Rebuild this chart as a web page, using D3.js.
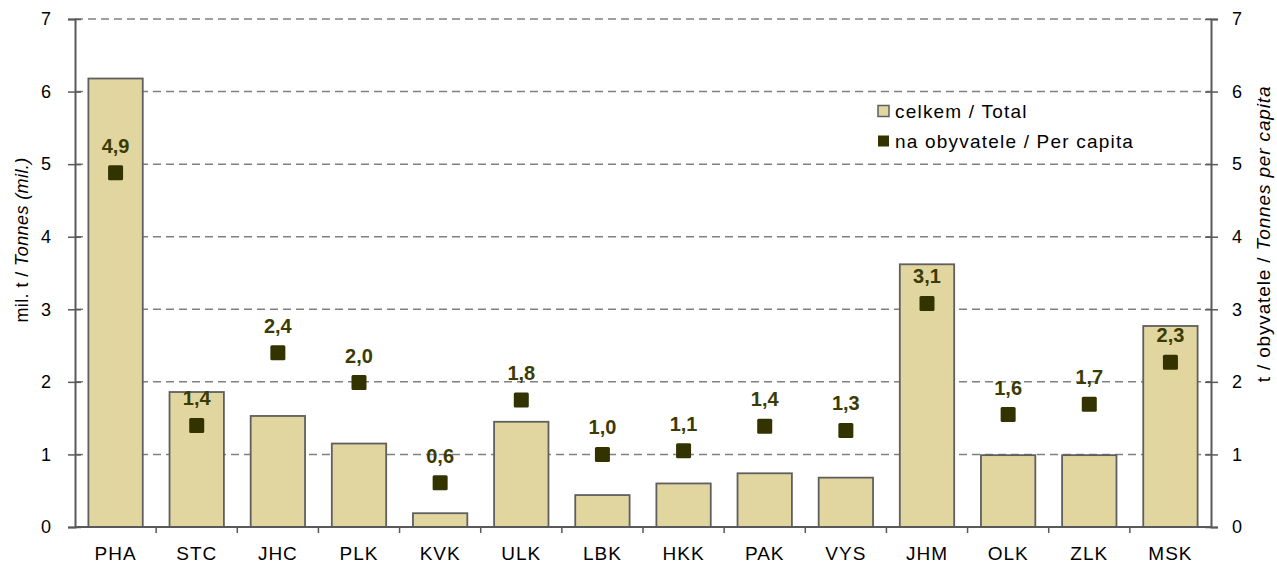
<!DOCTYPE html>
<html>
<head>
<meta charset="utf-8">
<script src="https://cdn.jsdelivr.net/npm/d3@7"></script>
<style>
  body { margin: 0; background: #fff; }
  text { font-family: "Liberation Sans", Arial, sans-serif; }
</style>
</head>
<body>
<svg id="chart" width="1277" height="564"></svg>
<script>
// regions and values
const regions = ["PHA", "STC", "JHC", "PLK", "KVK", "ULK", "LBK", "HKK", "PAK", "VYS", "JHM", "OLK", "ZLK", "MSK"];
const totals = [6.18, 1.86, 1.53, 1.15, 0.19, 1.45, 0.44, 0.60, 0.74, 0.68, 3.62, 0.99, 0.99, 2.77];
const perCapita = [4.88, 1.40, 2.40, 1.99, 0.61, 1.75, 1.00, 1.05, 1.39, 1.33, 3.08, 1.55, 1.69, 2.27];
const perCapitaLabels = ["4,9", "1,4", "2,4", "2,0", "0,6", "1,8", "1,0", "1,1", "1,4", "1,3", "3,1", "1,6", "1,7", "2,3"];
const yTicks = [0, 1, 2, 3, 4, 5, 6, 7];

const svg = d3.select("#chart");
const plotL = 75, plotR = 1211, plotT = 19, plotB = 527;

const x = d3.scaleBand().domain(regions).range([plotL, plotR]).paddingInner(0.33).paddingOuter(0.165);
const xb = d3.scaleBand().domain(regions).range([plotL, plotR]);
const yL = d3.scaleLinear().domain([0, 7]).range([plotB, plotT]);
const yR = d3.scaleLinear().domain([0, 7]).range([plotB, plotT]);

// gridlines
svg.append("g").selectAll("line").data(yTicks.filter(d => d > 0)).join("line")
  .attr("x1", plotL).attr("x2", plotR)
  .attr("y1", d => yL(d)).attr("y2", d => yL(d))
  .attr("stroke", "#808080").attr("stroke-width", 1.5)
  .attr("stroke-dasharray", "8,5");

// bars
svg.append("g").selectAll("rect").data(regions).join("rect")
  .attr("x", d => x(d)).attr("width", x.bandwidth())
  .attr("y", (d, i) => yL(totals[i]))
  .attr("height", (d, i) => plotB - yL(totals[i]))
  .attr("fill", "#e1d6a0").attr("stroke", "#5f5f5f").attr("stroke-width", 1.8);

// axes
const axisColor = "#595959";
const gl = svg.append("g").attr("transform", `translate(${plotL},0)`)
  .call(d3.axisLeft(yL).tickValues(yTicks).tickSize(7).tickFormat(d3.format("d")));
const gr = svg.append("g").attr("transform", `translate(${plotR},0)`)
  .call(d3.axisRight(yR).tickValues(yTicks).tickSize(7).tickFormat(d3.format("d")));
[gl, gr].forEach(g => {
  g.select(".domain").attr("stroke", axisColor).attr("stroke-width", 2);
  g.selectAll(".tick line").attr("stroke", axisColor).attr("stroke-width", 1.5);
  g.selectAll(".tick text").attr("font-size", 18).attr("fill", "#000")
    .attr("font-family", "Liberation Sans, Arial, sans-serif");
});
gl.selectAll(".tick line").attr("x1", 6);
gl.selectAll(".tick text").attr("x", -24);
gr.selectAll(".tick line").attr("x1", -6);
gr.selectAll(".tick text").attr("x", 21);

// bottom axis with ticks at category boundaries
const gb = svg.append("g").attr("transform", `translate(0,${plotB})`);
gb.append("line").attr("x1", plotL).attr("x2", plotR).attr("stroke", axisColor).attr("stroke-width", 2);
gb.selectAll("line.tk").data(regions.slice(1)).join("line").attr("class", "tk")
  .attr("x1", d => xb(d)).attr("x2", d => xb(d)).attr("y1", 0).attr("y2", 6)
  .attr("stroke", axisColor).attr("stroke-width", 1.5);
gb.selectAll("text").data(regions).join("text")
  .attr("x", d => xb(d) + xb.bandwidth() / 2).attr("y", 33)
  .attr("text-anchor", "middle").attr("font-size", 19).attr("letter-spacing", 1)
  .attr("fill", "#000")
  .text(d => d);

// per-capita markers
const ms = 15;
svg.append("g").selectAll("rect").data(regions).join("rect")
  .attr("x", d => xb(d) + xb.bandwidth() / 2 - ms / 2)
  .attr("y", (d, i) => yR(perCapita[i]) - ms / 2)
  .attr("width", ms).attr("height", ms).attr("rx", 1.5)
  .attr("fill", "#333300");

svg.append("g").selectAll("text").data(regions).join("text")
  .attr("x", d => xb(d) + xb.bandwidth() / 2)
  .attr("y", (d, i) => yR(perCapita[i]) - 20)
  .attr("text-anchor", "middle").attr("font-size", 20).attr("font-weight", "bold")
  .attr("fill", "#3b3b02")
  .text((d, i) => perCapitaLabels[i]);

// axis titles
const tl = svg.append("text").attr("transform", "translate(28,240) rotate(-90)")
  .attr("text-anchor", "middle").attr("font-size", 18).attr("letter-spacing", 0.4)
  .attr("fill", "#000");
tl.append("tspan").text("mil. t / ");
tl.append("tspan").attr("font-style", "italic").text("Tonnes (mil.)");

const tr = svg.append("text").attr("transform", "translate(1270,234) rotate(-90)")
  .attr("text-anchor", "middle").attr("font-size", 19).attr("letter-spacing", 0.85)
  .attr("fill", "#000");
tr.append("tspan").text("t / obyvatele / ");
tr.append("tspan").attr("font-style", "italic").text("Tonnes per capita");

// legend
const legendItems = [
  { label: "celkem / Total", fill: "#e1d6a0", stroke: "#5f5f5f" },
  { label: "na obyvatele / Per capita", fill: "#333300", stroke: "none" }
];
const lg = svg.append("g").attr("transform", "translate(878,111)");
legendItems.forEach((it, i) => {
  const row = lg.append("g").attr("transform", `translate(0,${i * 30})`);
  row.append("rect").attr("x", 0).attr("y", -5.5).attr("width", 11).attr("height", 11)
    .attr("fill", it.fill).attr("stroke", it.stroke).attr("stroke-width", 1.5);
  row.append("text").attr("x", 17).attr("y", 7).attr("font-size", 19).attr("letter-spacing", 1.2)
    .attr("fill", "#000")
    .text(it.label);
});
</script>
</body>
</html>
